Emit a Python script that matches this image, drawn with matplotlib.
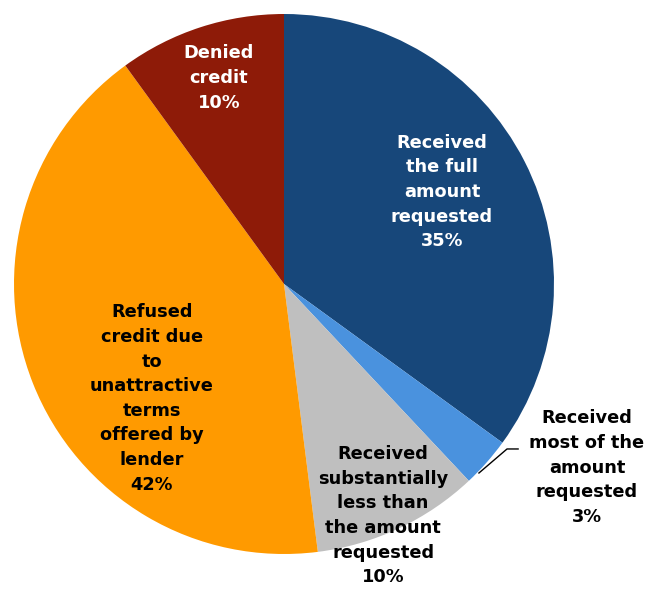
import matplotlib.pyplot as plt

labels = ['Received\nthe full\namount\nrequested',
          'Received\nmost of the\namount\nrequested',
          'Received\nsubstantially\nless than\nthe amount\nrequested',
          'Refused\ncredit due\nto\nunattractive\nterms\noffered by\nlender',
          'Denied\ncredit']
shares = [35, 3, 10, 42, 10]
colors = ['#17477A', '#4A92DE', '#BFBFBF', '#FF9A00', '#8E1B08']
text_colors = ['white', 'black', 'black', 'black', 'white']

# label centres in data units (pie radius = 1)
label_pos = [(0.585, 0.341), (1.122, -0.680), (0.367, -0.858),
             (-0.489, -0.424), (-0.241, 0.763)]

fig = plt.figure(figsize=(6.57, 5.94), dpi=100)
ax = fig.add_axes([0, 0, 1, 1])

ax.pie(shares, colors=colors, startangle=90, counterclock=False,
       radius=1, center=(0, 0), wedgeprops=dict(linewidth=0))

for lab, val, c, (x, y) in zip(labels, shares, text_colors, label_pos):
    ax.text(x, y, f'{lab}\n{val}%', ha='center', va='center', color=c,
            fontsize=12.8, fontweight='bold', linespacing=1.47,
            family='DejaVu Sans')

# leader line for the small slice
ax.plot([0.867, 0.826, 0.722], [-0.611, -0.611, -0.700], color='black', lw=1)

r = 270.0
ax.set_xlim(-284 / r, (657 - 284) / r)
ax.set_ylim(-(594 - 284) / r, 284 / r)
ax.set_aspect('auto')
ax.axis('off')

fig.savefig('out.png', dpi=100)
